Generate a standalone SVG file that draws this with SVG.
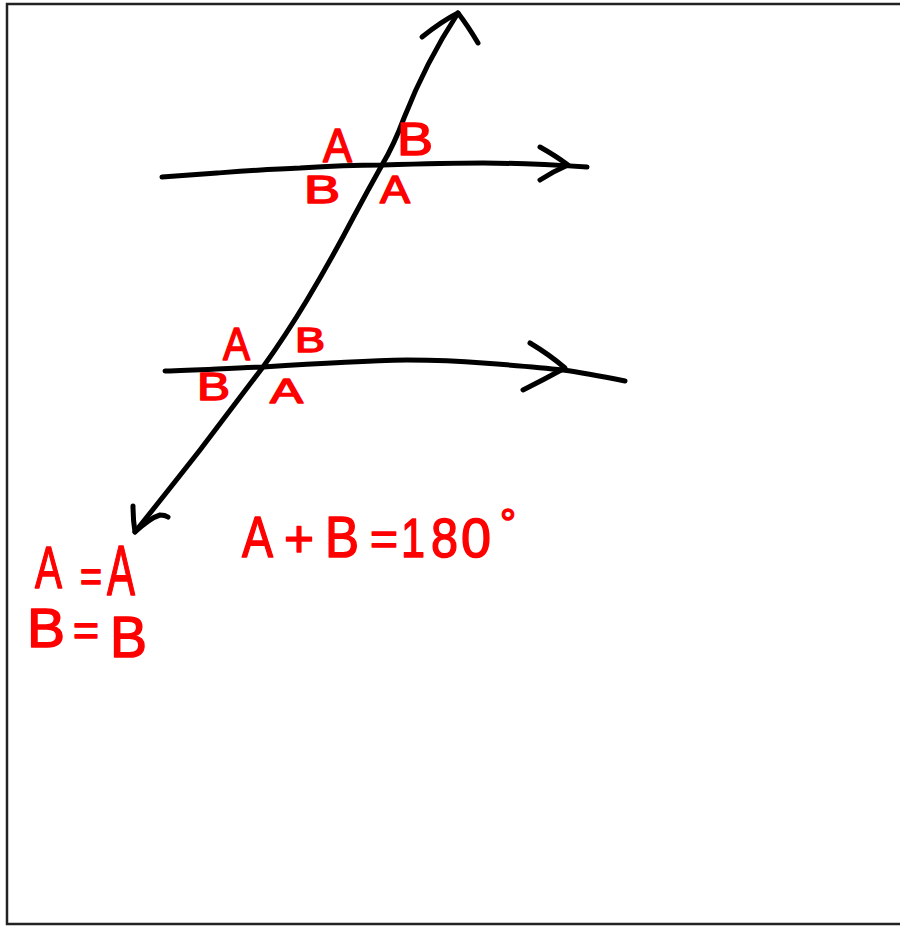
<svg xmlns="http://www.w3.org/2000/svg" width="900" height="926" viewBox="0 0 900 926">
<style>
.ln{fill:none;stroke:#000;stroke-width:5;stroke-linecap:round;stroke-linejoin:round}
.lb{font-family:"Liberation Sans",Arial,sans-serif;fill:#ff0000;stroke:#ff0000;stroke-width:1.5;stroke-linejoin:round}
</style>
<rect x="7" y="4" width="897" height="920" fill="#fff" stroke="#222" stroke-width="2.5"/>
<g id="connectors">
<path class="ln" d="M458,13 Q426,62 404,118 Q394,145 382,165 Q368,190 353,218 Q331,260 307,300 Q286,335 263,367 Q231,409 200,450 Q167,492 135,532"/>
<path class="ln" d="M422,37 Q442,21 458,13 Q468,26 478,43"/>
<path class="ln" d="M133,506 Q133,520 135,532 Q150,518 160,515 Q165,515 168,517"/>
<path class="ln" d="M162,177 C190,175 205,174 217,173 C245,171 272,169 300,168 C330,166 355,165 382,165 C415,164 450,163 483,163 C520,163 555,165 587,167"/>
<path class="ln" d="M540,147 Q556,156 568,165 Q554,171 540,180"/>
<path class="ln" d="M165,371 C200,370 230,368 263,367 C310,364 360,361 407,360 C435,360 460,361 483,363 C510,365 537,367 563,370 C585,373 605,377 625,381"/>
<path class="ln" d="M530,343 Q550,355 565,368 Q543,380 523,390"/>
</g>
<g id="labels">
<text class="lb" x="323" y="162" font-size="48" textLength="29" lengthAdjust="spacingAndGlyphs">A</text>
<text class="lb" x="397" y="155" font-size="46" textLength="36" lengthAdjust="spacingAndGlyphs">B</text>
<text class="lb" x="304" y="203" font-size="38" textLength="36" lengthAdjust="spacingAndGlyphs">B</text>
<text class="lb" x="380" y="203" font-size="39" textLength="30" lengthAdjust="spacingAndGlyphs">A</text>
<text class="lb" x="223" y="360" font-size="46" textLength="27" lengthAdjust="spacingAndGlyphs">A</text>
<text class="lb" x="295" y="352" font-size="35" textLength="30" lengthAdjust="spacingAndGlyphs">B</text>
<text class="lb" x="197" y="400" font-size="38" textLength="33" lengthAdjust="spacingAndGlyphs">B</text>
<text class="lb" x="270" y="403" font-size="35" textLength="33" lengthAdjust="spacingAndGlyphs">A</text>
</g>
<g id="equations">
<text class="lb" x="35" y="588" font-size="60" textLength="27" lengthAdjust="spacingAndGlyphs">A</text>
<text class="lb" x="80" y="592" font-size="44" textLength="22" lengthAdjust="spacingAndGlyphs">=</text>
<text class="lb" x="107" y="595" font-size="70" textLength="28" lengthAdjust="spacingAndGlyphs">A</text>
<text class="lb" x="27" y="647" font-size="56" textLength="38" lengthAdjust="spacingAndGlyphs">B</text>
<text class="lb" x="73" y="646" font-size="44" textLength="26" lengthAdjust="spacingAndGlyphs">=</text>
<text class="lb" x="110" y="657" font-size="58" textLength="37" lengthAdjust="spacingAndGlyphs">B</text>
<text class="lb" x="242" y="557" font-size="58" textLength="31" lengthAdjust="spacingAndGlyphs">A</text>
<text class="lb" x="284" y="557" font-size="52" textLength="30" lengthAdjust="spacingAndGlyphs">+</text>
<text class="lb" x="325" y="557" font-size="58" textLength="34" lengthAdjust="spacingAndGlyphs">B</text>
<text class="lb" x="370" y="555" font-size="46" textLength="28" lengthAdjust="spacingAndGlyphs">=</text>
<text class="lb" x="401" y="557" font-size="56" textLength="24" lengthAdjust="spacingAndGlyphs">1</text>
<text class="lb" x="431" y="557" font-size="56" textLength="27" lengthAdjust="spacingAndGlyphs">8</text>
<text class="lb" x="461" y="557" font-size="56" textLength="30" lengthAdjust="spacingAndGlyphs">0</text>
<text class="lb" x="500" y="537" font-size="40">°</text>
</g>
</svg>
